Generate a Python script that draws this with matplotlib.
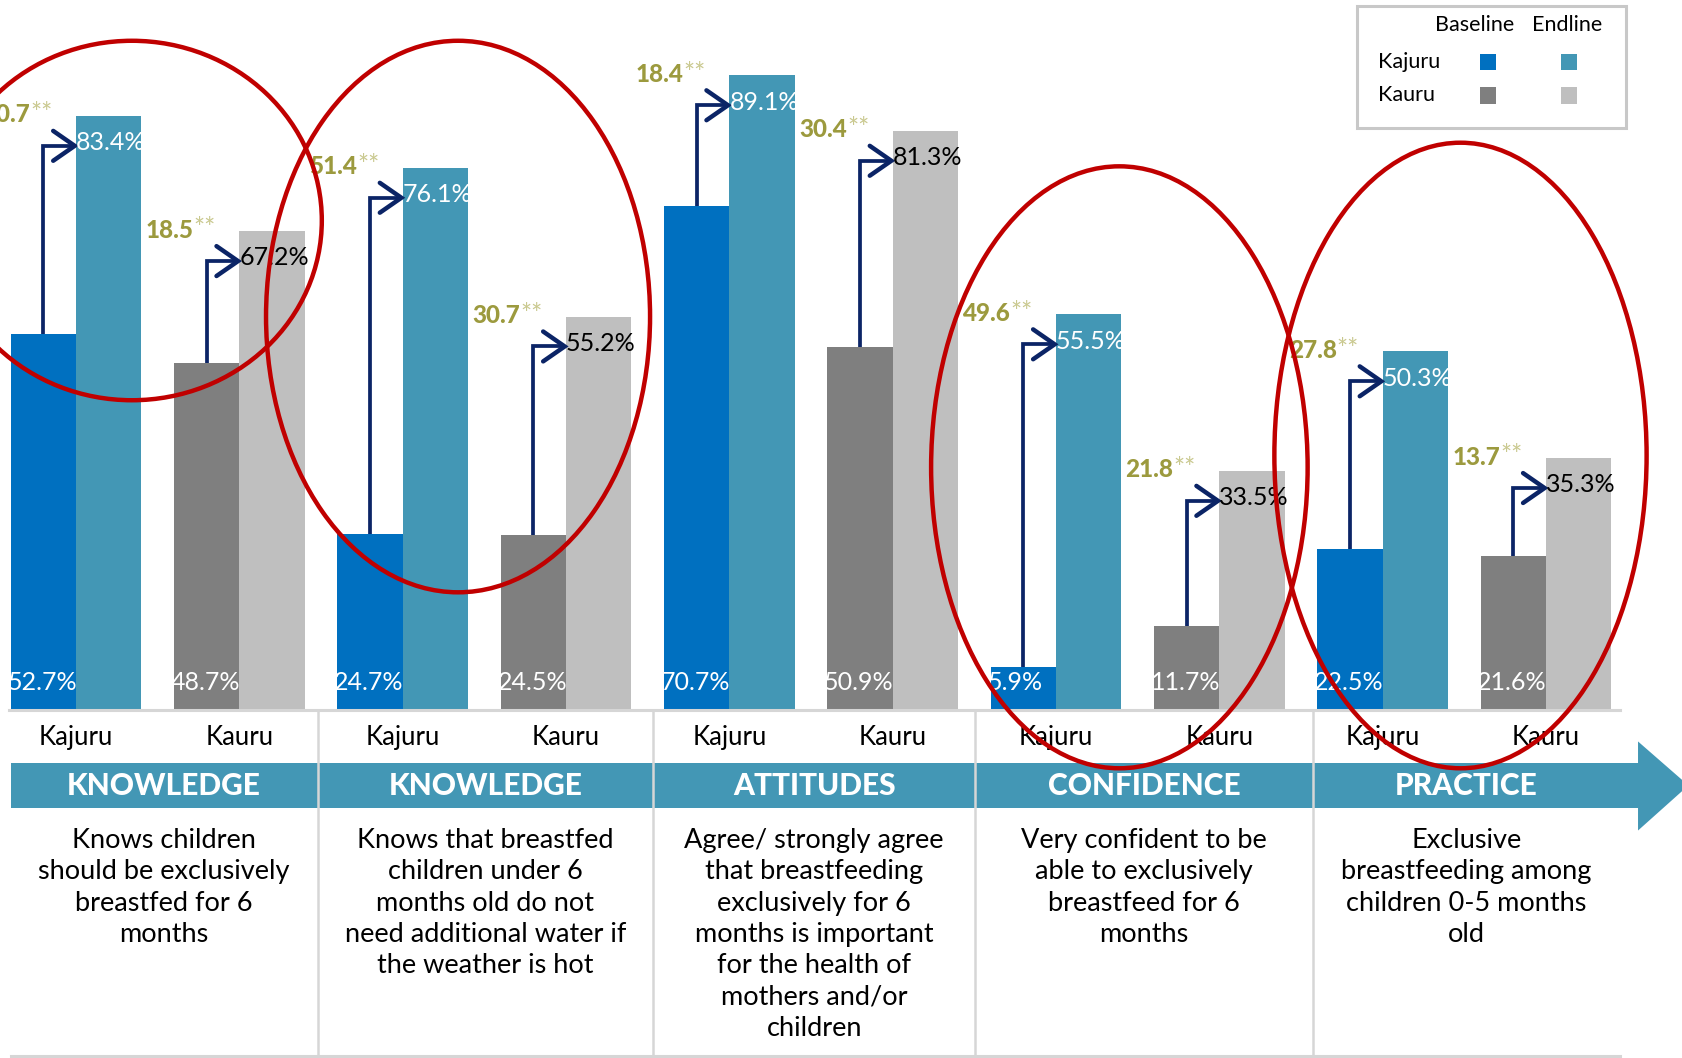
import numpy as np
import matplotlib.pyplot as plt
from matplotlib.patches import Rectangle, Ellipse, Polygon

plt.rcParams['font.family'] = ['Lato', 'DejaVu Sans']

# ---- data ----
themes = ['KNOWLEDGE', 'KNOWLEDGE', 'ATTITUDES', 'CONFIDENCE', 'PRACTICE']
descriptions = [
    'Knows children\nshould be exclusively\nbreastfed for 6\nmonths',
    'Knows that breastfed\nchildren under 6\nmonths old do not\nneed additional water if\nthe weather is hot',
    'Agree/ strongly agree\nthat breastfeeding\nexclusively for 6\nmonths is important\nfor the health of\nmothers and/or\nchildren',
    'Very confident to be\nable to exclusively\nbreastfeed for 6\nmonths',
    'Exclusive\nbreastfeeding among\nchildren 0-5 months\nold',
]
sites = ['Kajuru', 'Kauru']
kajuru_baseline = [52.7, 24.7, 70.7, 5.9, 22.5]
kajuru_endline = [83.4, 76.1, 89.1, 55.5, 50.3]
kauru_baseline = [48.7, 24.5, 50.9, 11.7, 21.6]
kauru_endline = [67.2, 55.2, 81.3, 33.5, 35.3]
kajuru_change = [30.7, 51.4, 18.4, 49.6, 27.8]
kauru_change = [18.5, 30.7, 30.4, 21.8, 13.7]

series = {
    'Kajuru': (kajuru_baseline, kajuru_endline, kajuru_change),
    'Kauru': (kauru_baseline, kauru_endline, kauru_change),
}

c_base = {'Kajuru': '#0070C0', 'Kauru': '#7F7F7F'}
c_end = {'Kajuru': '#4397B5', 'Kauru': '#BFBFBF'}
end_txt = {'Kajuru': 'white', 'Kauru': 'black'}
navy = '#0B2466'
olive = '#9C9A3E'
olive_light = '#C9C88E'
red = '#C00000'
teal = '#4397B5'
grid_grey = '#D6D6D6'

# layout units (reference scale)
W, H = 1568, 986
y0 = 661          # bar baseline
px_unit = 60.9    # one bar width
px_pct = 6.63     # one percent

fig = plt.figure(figsize=(16.82, 10.58), dpi=100)

ax = fig.add_axes([0, (H - y0) / H, 1, y0 / H])
ax.set_xlim(-10 / px_unit, (W - 10) / px_unit)
ax.set_ylim(0, y0 / px_pct)
ax.axis('off')

for s, site in enumerate(sites):
    base, end, change = series[site]
    pos = np.arange(len(themes)) * 5 + s * 2.5
    bx = pos + 0.5
    ex = pos + 1.5
    ax.bar(bx, base, 1, color=c_base[site], linewidth=0)
    ax.bar(ex, end, 1, color=c_end[site], linewidth=0)
    for b, e, d, xb, xe, p in zip(base, end, change, bx, ex, pos):
        lvl = e - 4.2
        tip = xe - 0.52
        ax.plot([xb, xb, tip - 0.03], [b, lvl, lvl], color=navy, lw=2.7,
                solid_joinstyle='miter', solid_capstyle='butt')
        ax.plot([tip - 0.33, tip, tip - 0.33], [lvl + 2.1, lvl, lvl - 2.1],
                color=navy, lw=3.2, solid_capstyle='round', solid_joinstyle='miter')
        ax.text(xb - 0.55, 2.75, f'{b}%', color='white', fontsize=18,
                ha='left', va='baseline')
        ax.text(xe - 0.5, lvl - 0.6, f'{e}%', color=end_txt[site], fontsize=18,
                ha='left', va='baseline')
        t = ax.text(xb - 0.2, lvl + 3.3, f'{d}', color=olive, fontsize=17.5,
                    fontweight='black', ha='right', va='baseline')
        ax.annotate('**', xy=(1, 1.05), xycoords=t, va='top', ha='left',
                    color=olive_light, fontsize=19)
        ax.text(p + 1.0, -5.05, site, fontsize=18.5, ha='center', va='baseline')

# ---- table / decoration layer ----
ov = fig.add_axes([0, 0, 1, 1])
ov.set_xlim(0, W)
ov.set_ylim(H, 0)
ov.axis('off')
ov.patch.set_alpha(0)

edges = [10, 296, 609, 909, 1224, 1510]

ov.plot([8, 1510], [662, 662], color=grid_grey, lw=2.2)
ov.plot([10, 1510], [984, 984], color=grid_grey, lw=2.2)

ov.add_patch(Rectangle((10, 711), 1518, 42, color=teal, lw=0, zorder=1))
ov.add_patch(Polygon([(1527, 691), (1574, 732), (1527, 774)], closed=True,
                     color=teal, lw=0, zorder=1))
for xs in edges[1:-1]:
    ov.plot([xs, xs], [664, 984], color=grid_grey, lw=1.8, zorder=2)

for k, (theme, desc) in enumerate(zip(themes, descriptions)):
    cx = (edges[k] + edges[k + 1]) / 2
    ov.text(cx, 741, theme, color='white', fontsize=21.5, fontweight='black',
            ha='center', va='baseline', zorder=3)
    for j, line in enumerate(desc.split('\n')):
        ov.text(cx, 790 + 29.3 * j, line, fontsize=19.5, ha='center',
                va='baseline', zorder=3)

# legend
ov.add_patch(Rectangle((1265, 6), 251, 113, fill=False, ec='#C8C8C8', lw=2.2))
ov.text(1375, 23, 'Baseline', ha='center', va='center', fontsize=15.5)
ov.text(1461, 23, 'Endline', ha='center', va='center', fontsize=15.5)
for k, site in enumerate(sites):
    yy = 58 + 31 * k
    ov.text(1285, yy, site, ha='left', va='center', fontsize=15.5)
    ov.add_patch(Rectangle((1380, yy - 7.5), 15, 15, color=c_base[site], lw=0))
    ov.add_patch(Rectangle((1455, yy - 7.5), 15, 15, color=c_end[site], lw=0))

# red highlight ellipses
for cx, cy, a, b in [(123, 205.5, 177, 167.5), (427, 295, 179, 257),
                     (1043.5, 435.5, 175.5, 280.5), (1361.5, 424.5, 173.5, 291.5)]:
    ov.add_patch(Ellipse((cx, cy), 2 * a, 2 * b, fill=False, ec=red, lw=3.2, zorder=5))

fig.savefig('out.png', dpi=100)
